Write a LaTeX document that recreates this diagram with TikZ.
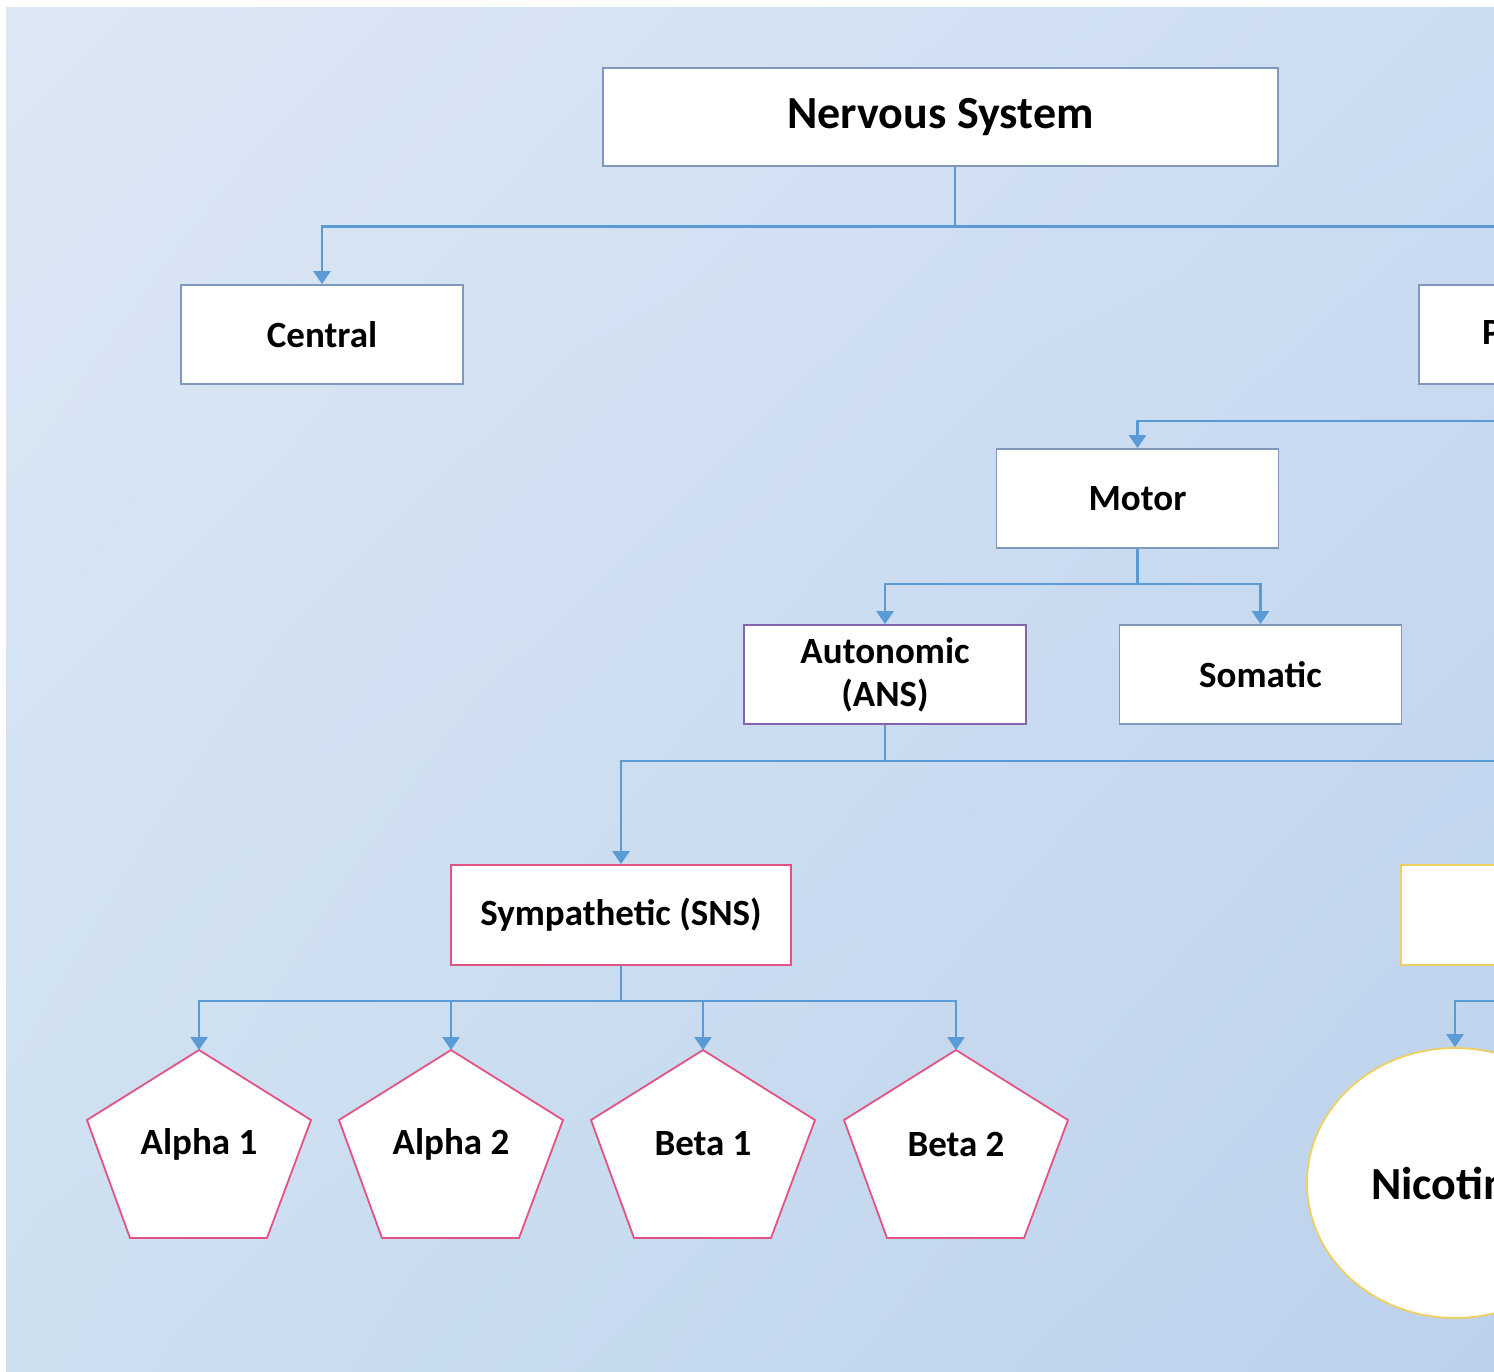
\documentclass[tikz,border=0pt]{standalone}
\usepackage{fontspec}
\setmainfont{Carlito}
\usepackage{tikz}
\usetikzlibrary{positioning, arrows.meta, shapes, shadings}
\definecolor{fondoA}{RGB}{221, 231, 245}
\definecolor{fondoB}{RGB}{204, 221, 242}
\definecolor{fondoC}{RGB}{205, 224, 240}
\definecolor{fondoD}{RGB}{188, 209, 236}
\definecolor{azul}{RGB}{91, 155, 213}
\definecolor{borde}{RGB}{128, 152, 188}
\definecolor{lila}{RGB}{132, 100, 172}
\definecolor{rosa}{RGB}{226, 82, 132}
\definecolor{amarillo}{RGB}{238, 208, 96}
\tikzset{
    box/.style={draw=borde, fill=white, line width=1.8pt, minimum width=282pt, minimum height=99pt, inner sep=0pt, font=\bfseries\fontsize{37}{43}\selectfont},
    nicbox/.style={draw=amarillo, fill=white, ellipse, line width=1.8pt, minimum width=296pt, minimum height=270pt, inner sep=0pt, font=\bfseries\fontsize{46}{54}\selectfont},
    pentlab/.style={inner sep=0pt, font=\bfseries\fontsize{37}{43}\selectfont},
    pentline/.style={draw=rosa, fill=white, line width=1.8pt, line join=miter},
    conn/.style={draw=azul, line width=2.8pt, -{Triangle[width=17pt,length=13pt]}},
}

\begin{document}
\begin{tikzpicture}[x=1pt, y=-1pt]
    \useasboundingbox (0,0) rectangle (1494,1372);
    \clip (0,0) rectangle (1494,1372);
    \fill[white] (0,0) rectangle (1494,1372);
    \shade[upper left=fondoA, upper right=fondoB, lower left=fondoC, lower right=fondoD] (6,8) rectangle (1494,1372);

    \node[box, minimum width=675pt, minimum height=98pt, font=\bfseries\fontsize{46}{54}\selectfont] (ns) at (940.5,117) {\raisebox{-3pt}{Nervous System}};
    \node[box] (cen) at (322,334.5) {Central};
    \node[box, minimum width=284pt] (per) at (1561,334.5) {Peripheral};
    \node[box] (mot) at (1137.5,498.5) {Motor};
    \node[box, draw=lila, align=center] (ans) at (885,674.5) {Autonomic\\(ANS)};
    \node[box] (som) at (1260.5,674.5) {Somatic};
    \node[box, draw=rosa, minimum width=340pt, minimum height=100pt] (sns) at (621,915) {Sympathetic (SNS)};
    \node[box, draw=amarillo, minimum width=340pt, minimum height=100pt] (pns) at (1571,915) {};
    \node[nicbox] (nic) at (1455,1183) {Nicotinic};

    \foreach \nm/\px/\lab in {a1/199/Alpha 1, a2/451/Alpha 2, b1/703/Beta 1, b2/956/Beta 2} {
        \coordinate (\nm top) at (\px,1050);
        \draw[pentline] (\nm top) -- ++(112,70) -- ++(-44,118) -- ++(-137,0) -- ++(-43,-118) -- cycle;
        \node[pentlab] (\nm) at (\px,1144) {\lab};
    }

    \draw[conn] ([xshift=14.5pt]ns.south) -- ++(0,60) -| (cen.north);
    \draw[conn] ([xshift=14.5pt]ns.south) -- ++(0,60) -| (per.north);
    \draw[conn] (per.south) -- ++(0,36) -| (mot.north);
    \draw[conn] (mot.south) -- ++(0,35) -| (ans.north);
    \draw[conn] (mot.south) -- ++(0,35) -| (som.north);
    \draw[conn] (ans.south) -- ++(0,36) -| (sns.north);
    \draw[conn] (ans.south) -- ++(0,36) -| (pns.north);
    \draw[conn] (sns.south) -- ++(0,35) -| (a1top);
    \draw[conn] (sns.south) -- ++(0,35) -| (a2top);
    \draw[conn] (sns.south) -- ++(0,35) -| (b1top);
    \draw[conn] (sns.south) -- ++(0,35) -| (b2top);
    \draw[conn] (pns.south) -- ++(0,35) -| (nic.north);
\end{tikzpicture}
\end{document}
